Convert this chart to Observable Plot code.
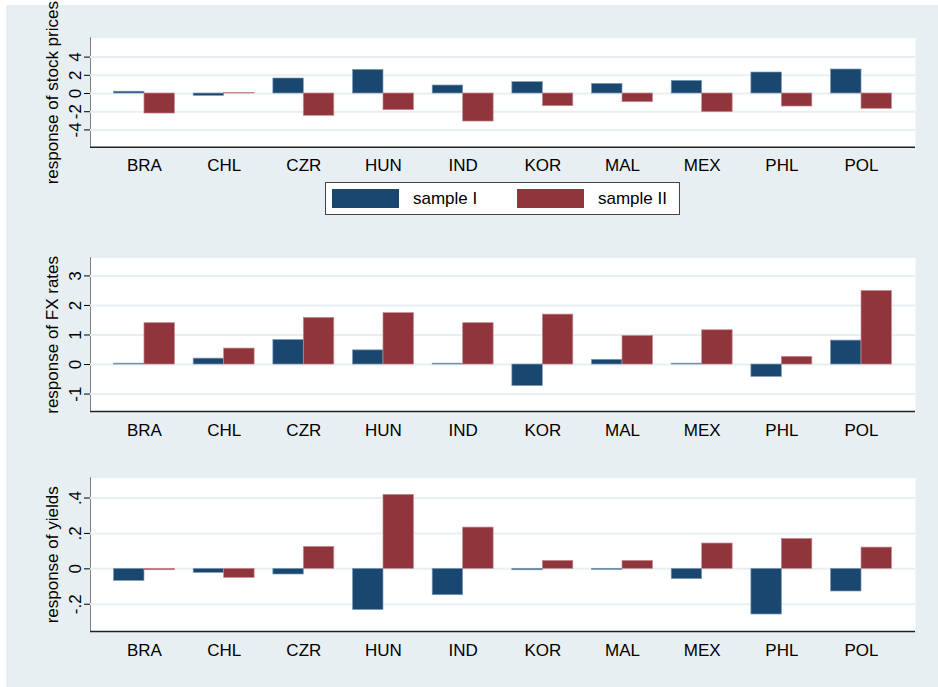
<!DOCTYPE html>
<html>
<head>
<meta charset="utf-8">
<script src="https://cdn.jsdelivr.net/npm/d3@7"></script>
<script src="https://cdn.jsdelivr.net/npm/@observablehq/plot@0.6"></script>
<style>
  html, body { margin: 0; padding: 0; background: #ffffff; }
  #graph {
    position: absolute; left: 6px; top: 5px; width: 932px; height: 682px;
    background: #e8eff2; font-family: "Liberation Sans", Arial, Helvetica, sans-serif;
  }
  .panel { position: absolute; left: 0; }
  .panel svg { overflow: visible; }
  #legend {
    position: absolute; left: 319px; top: 177px; width: 353px; height: 31px;
    background: #ffffff; border: 1px solid #444; box-sizing: content-box;
  }
  #legend .sw { position: absolute; top: 6px; width: 67px; height: 19px; }
  #legend .lab { position: absolute; top: 5px; font-size: 17px; line-height: 21px; color: #000; }
</style>
</head>
<body>
<div id="graph">
  <div class="panel" id="p1" style="top:0px"></div>
  <div id="legend">
    <div class="sw" style="left:6px;background:#1a476f"></div>
    <div class="lab" id="labI" style="left:87px"></div>
    <div class="sw" style="left:191px;background:#90353b"></div>
    <div class="lab" id="labII" style="left:272px"></div>
  </div>
  <div class="panel" id="p2" style="top:220px"></div>
  <div class="panel" id="p3" style="top:440px"></div>
</div>
<script>
// Countries and the two estimation samples
const countries = ["BRA", "CHL", "CZR", "HUN", "IND", "KOR", "MAL", "MEX", "PHL", "POL"];
const sampleNames = ["sample I", "sample II"];
const sampleColors = ["#1a476f", "#90353b"];
const sampleEdges = ["#7f9bb4", "#c48a8f"];

// Response of stock prices
const stockI  = [0.2, -0.26, 1.65, 2.6, 0.88, 1.25, 1.06, 1.39, 2.31, 2.64];
const stockII = [-2.2, 0.08, -2.45, -1.83, -3.08, -1.39, -0.95, -2.05, -1.43, -1.68];
const stockTicks = [-4, -2, 0, 2, 4];
const stockTickLabels = ["-4", "-2", "0", "2", "4"];

// Response of FX rates
const fxI  = [0.03, 0.2, 0.83, 0.48, 0.03, -0.73, 0.16, 0.03, -0.42, 0.81];
const fxII = [1.40, 0.54, 1.58, 1.74, 1.40, 1.69, 0.97, 1.16, 0.26, 2.49];
const fxTicks = [-1, 0, 1, 2, 3];
const fxTickLabels = ["-1", "0", "1", "2", "3"];

// Response of yields
const yieldI  = [-0.068, -0.023, -0.032, -0.233, -0.149, -0.008, -0.006, -0.058, -0.258, -0.128];
const yieldII = [-0.008, -0.051, 0.124, 0.418, 0.233, 0.045, 0.045, 0.143, 0.169, 0.120];
const yieldTicks = [-0.2, 0, 0.2, 0.4];
const yieldTickLabels = ["-.2", "0", ".2", ".4"];

document.getElementById("labI").textContent = sampleNames[0];
document.getElementById("labII").textContent = sampleNames[1];

const W = 932, ML = 84, MR = 23;
const padInner = 0.235, padOuter = 0.295;
const step = (W - ML - MR) / (countries.length - padInner + 2 * padOuter);
const half = step * (1 - padInner) / 2;
const gridColor = "#e8eff2";

function panel({id, height, marginTop, marginBottom, domain, ticks, tickLabels, title, valsI, valsII, labelPad}) {
  const rowsI = countries.map((c, i) => ({country: c, value: valsI[i]}));
  const rowsII = countries.map((c, i) => ({country: c, value: valsII[i]}));
  const chart = Plot.plot({
    width: W,
    height,
    marginLeft: ML,
    marginRight: MR,
    marginTop,
    marginBottom,
    style: {
      fontFamily: '"Liberation Sans", Arial, Helvetica, sans-serif',
      fontSize: "17px",
      background: "transparent",
      color: "#000",
      overflow: "visible"
    },
    x: {
      domain: countries,
      paddingInner: padInner,
      paddingOuter: padOuter,
      round: false,
      tickSize: 0,
      tickPadding: labelPad,
      label: null
    },
    y: {
      domain,
      ticks,
      tickSize: 6,
      tickFormat: () => "",
      label: null,
      line: true
    },
    marks: [
      Plot.frame({fill: "white", stroke: null}),
      Plot.ruleY(ticks, {stroke: gridColor, strokeWidth: 2}),
      Plot.barY(rowsI, {x: "country", y: "value", fill: sampleColors[0], stroke: sampleEdges[0], strokeWidth: 0.7, insetRight: half}),
      Plot.barY(rowsII, {x: "country", y: "value", fill: sampleColors[1], stroke: sampleEdges[1], strokeWidth: 0.7, insetLeft: half}),
      Plot.ruleY([domain[0]], {stroke: "#222", strokeWidth: 1.5}),
      Plot.text(ticks, {y: d => d, text: (d, i) => tickLabels[i], frameAnchor: "left", rotate: -90, dx: -15, textAnchor: "middle", lineAnchor: "middle", fill: "#000"}),
      Plot.text([title], {text: d => d, frameAnchor: "left", rotate: -90, dx: -38, textAnchor: "middle", lineAnchor: "middle", fill: "#000"})
    ]
  });
  document.getElementById(id).appendChild(chart);
}

panel({id: "p1", height: 170, marginTop: 32.7, marginBottom: 28.3, domain: [-5.9, 6.08],
  ticks: stockTicks, tickLabels: stockTickLabels, title: "response of stock prices",
  valsI: stockI, valsII: stockII, labelPad: 12});
panel({id: "p2", height: 220, marginTop: 32.7, marginBottom: 34, domain: [-1.59, 3.6],
  ticks: fxTicks, tickLabels: fxTickLabels, title: "response of FX rates",
  valsI: fxI, valsII: fxII, labelPad: 12.5});
panel({id: "p3", height: 220, marginTop: 32.7, marginBottom: 34, domain: [-0.354, 0.512],
  ticks: yieldTicks, tickLabels: yieldTickLabels, title: "response of yields",
  valsI: yieldI, valsII: yieldII, labelPad: 12.5});
</script>
</body>
</html>
